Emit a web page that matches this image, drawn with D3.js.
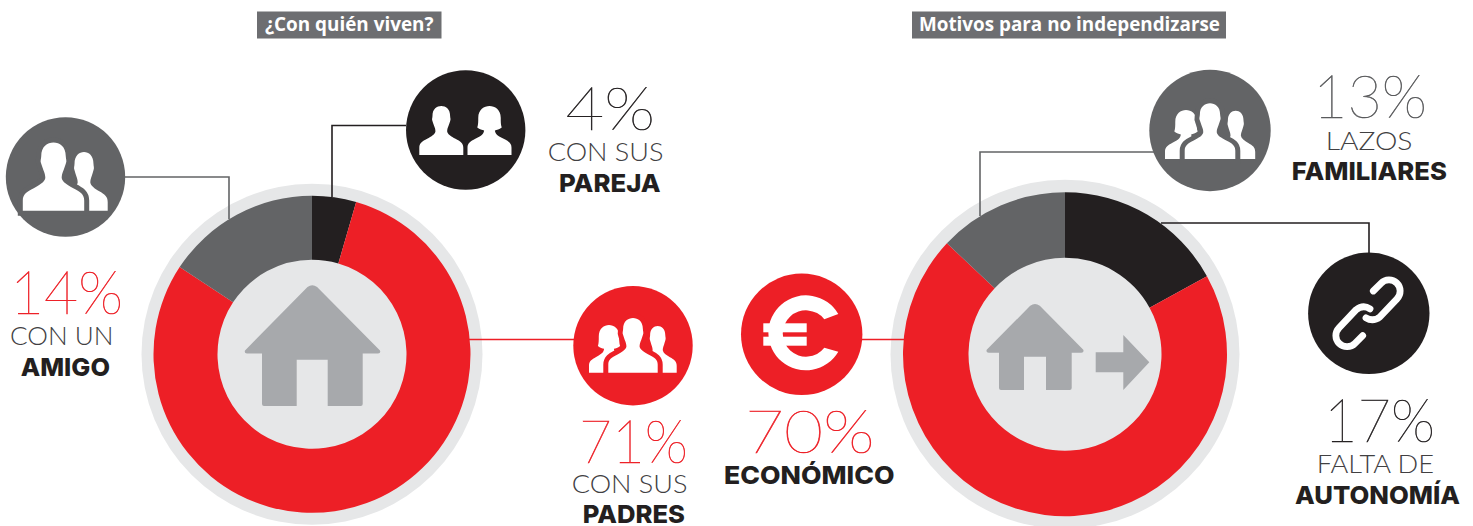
<!DOCTYPE html>
<html lang="es">
<head>
<meta charset="utf-8">
<style>
html,body{margin:0;padding:0;background:#fff;overflow:hidden}
svg{display:block}
.big{font-family:Lato;font-weight:200;stroke-width:.55px;opacity:.99}
.light{font-family:Lato;font-weight:300}
.bold{font-family:Inter,Lato;font-weight:800}
.title{font-family:"Open Sans";font-weight:700;fill:#fff}
</style>
</head>
<body>
<svg id="c" width="1473" height="526"></svg>
<script src="https://cdnjs.cloudflare.com/ajax/libs/d3/7.8.5/d3.min.js"></script>
<script>
// ---- Data ----
const titles = ["¿Con quién viven?", "Motivos para no independizarse"];
const viveCategories = ["Con sus pareja", "Con sus padres", "Con un amigo"];
const viveValues = [4, 71, 14];
const motivoCategories = ["Falta de autonomía", "Económico", "Lazos familiares"];
const motivoValues = [17, 70, 13];
const viveLight = ["CON SUS", "CON SUS", "CON UN"];
const viveBold = ["PAREJA", "PADRES", "AMIGO"];
const motivoLight = ["FALTA DE", "", "LAZOS"];
const motivoBold = ["AUTONOMÍA", "ECONÓMICO", "FAMILIARES"];

// ---- Style / layout (separate from data) ----
const RED = "#ed1f26", DARK = "#231f20", GREY = "#636466", HALO = "#e6e7e8", ICON = "#a7a9ac", TITLE = "#6d6e71";
const sliceColors = [DARK, RED, GREY];
const svg = d3.select("#c");

// Titles
const titleBoxes = [[257, 184.5, 265, 168.5], [912, 314, 919, 301]];
titles.forEach((t, i) => {
  const b = titleBoxes[i];
  svg.append("rect").attr("x", b[0]).attr("y", 11.5).attr("width", b[1]).attr("height", 27).attr("fill", TITLE);
  svg.append("text").attr("class", "title").attr("x", b[2]).attr("y", 31).attr("font-size", 20)
    .attr("textLength", b[3]).attr("lengthAdjust", "spacingAndGlyphs").text(t);
});

const line = d3.line();
const conn = [
  {c: GREY, p: [[125, 177], [229, 177], [229, 219]]},
  {c: DARK, p: [[406, 125.5], [332, 125.5], [332, 197]]},
  {c: RED,  p: [[468, 339.5], [575, 339.5]]},
  {c: RED,  p: [[860, 339.5], [905, 339.5]]},
  {c: GREY, p: [[1155, 152], [980, 152], [980, 216]]},
  {c: DARK, p: [[1161, 223], [1369, 223], [1369, 254]]}
];

// Donuts
const pie = d3.pie().sort(null);
function donut(vals, cx, cy, rHalo, rOut, rIn) {
  const g = svg.append("g").attr("transform", `translate(${cx},${cy})`);
  g.append("circle").attr("r", rHalo).attr("fill", HALO);
  const arc = d3.arc().innerRadius(rIn).outerRadius(rOut);
  g.selectAll("path").data(pie(vals)).join("path").attr("d", arc).attr("fill", (d, i) => sliceColors[i]);
}
donut(viveValues, 312, 354.3, 170.5, 158.5, 94.5);
donut(motivoValues, 1065, 354.2, 174.5, 162, 96.5);

conn.forEach(k => svg.append("path").attr("d", line(k.p)).attr("fill", "none").attr("stroke", k.c).attr("stroke-width", 1.6));

// Houses
function house(a, roofL, roofR, roofB, bodyL, bodyR, bodyB, doorL, doorR, doorT) {
  const p = d3.path();
  const r = 3;
  p.moveTo(a[0] - r * 1.6, a[1] + r * 0.6);
  p.quadraticCurveTo(a[0], a[1] - r * 0.6, a[0] + r * 1.6, a[1] + r * 0.6);
  p.lineTo(roofR, roofB - 3);
  p.quadraticCurveTo(roofR + 1, roofB, roofR - 2, roofB);
  p.lineTo(bodyR, roofB);
  p.lineTo(bodyR, bodyB - 2);
  p.quadraticCurveTo(bodyR, bodyB, bodyR - 2, bodyB);
  p.lineTo(doorR, bodyB); p.lineTo(doorR, doorT); p.lineTo(doorL, doorT); p.lineTo(doorL, bodyB);
  p.lineTo(bodyL + 2, bodyB);
  p.quadraticCurveTo(bodyL, bodyB, bodyL, bodyB - 2);
  p.lineTo(bodyL, roofB);
  p.lineTo(roofL + 2, roofB);
  p.quadraticCurveTo(roofL - 1, roofB, roofL, roofB - 3);
  p.closePath();
  svg.append("path").attr("d", p.toString()).attr("fill", ICON);
}
house([312.3, 285.2], 245, 380, 353.4, 262, 362.7, 406, 296.7, 327.7, 359.7);
house([1035, 304], 986.7, 1083.3, 352.7, 999, 1071.7, 390, 1024, 1046, 356.7);
svg.append("path").attr("fill", ICON)
  .attr("d", d3.line()([[1095.7, 352.3], [1123.3, 352.3], [1123.3, 335], [1149.3, 362.3], [1123.3, 390], [1123.3, 372.3], [1095.7, 372.3]]) + "Z");

// Icon circles
const circles = [
  [65.5, 177, 59.7, GREY], [465.7, 130, 59.7, DARK], [633, 345.7, 59.7, RED],
  [801.7, 334.3, 60.7, RED], [1210, 130.5, 60.7, GREY], [1368.8, 313.3, 60.7, DARK]
];
circles.forEach(c => svg.append("circle").attr("cx", c[0]).attr("cy", c[1]).attr("r", c[2]).attr("fill", c[3]));

// People silhouettes (unit box: x -45..45, y 0..100)
const MAN = "M-18,20C-18,6-9,0 0,0C9,0 18,6 18,20C18,24 20,27 18,31C17,34 16,37 15,40C13,45 12,48 12,52C13,58 20,62 29,67C39,72 45,76 45,85L45,100L-45,100L-45,85C-45,76-39,72-29,67C-20,62-13,58-12,52C-12,48-13,45-15,40C-16,37-17,34-18,31C-20,27-18,24-18,20Z";
const WOMAN = "M-23,24C-23,7-11,0 0,0C11,0 23,7 23,24C23,32 23,38 25,44C20,48 15,49 11,50C12,56 14,60 29,67C39,72 45,76 45,85L45,100L-45,100L-45,85C-45,76-39,72-29,67C-14,60-12,56-11,50C-15,49-20,48-25,44C-23,38-23,32-23,24Z";
function person(cx, top, bottom, half, kind, edge) {
  const sy = (bottom - top) / 100, sx = half / 45;
  const s = svg.append("path").attr("d", kind === "w" ? WOMAN : MAN)
    .attr("transform", `translate(${cx},${top}) scale(${sx},${sy})`).attr("fill", "#fff");
  if (edge) s.attr("stroke", edge).attr("stroke-width", 10 / sx).style("paint-order", "stroke");
}
// friend pair
person(84, 152, 210.7, 23.7, "m");
person(53.5, 142.6, 210.7, 30.7, "m", GREY);
// couple
person(441.3, 106, 155, 22, "m");
person(489.5, 106, 155, 22, "w");
// trio, red
person(609, 325, 372.7, 20, "w");
person(657.7, 326, 372.7, 19, "m");
person(633, 318, 372.7, 24.7, "m", RED);
// trio, grey
person(1186, 110, 159, 21, "w");
person(1235.7, 110.7, 159, 19.5, "m");
person(1210, 103.3, 159, 25.3, "m", GREY);

// Euro glyph
svg.append("rect").attr("x", 763.3).attr("y", 323.3).attr("width", 43.4).attr("height", 9).attr("fill", "#fff");
svg.append("rect").attr("x", 763.3).attr("y", 336.7).attr("width", 43.4).attr("height", 9).attr("fill", "#fff");
svg.append("path").attr("fill", "#fff").attr("transform", "translate(807.5,334.8)")
  .attr("d", "M30.8,-20.8A37.5,37.5 0 1 0 30.8,16.9L16.8,12.9A23.2,23.2 0 1 1 16.8,-15.5Z");

// Chain glyph
const chain = svg.append("g").attr("transform", "translate(1368,313.3)");
const CHAIN = "M5.3,-22.3L13,-30A11,11 0 0 1 29,-14.5L12,3.5Q5,9 -2,4.5";
[0, 180].forEach(a => chain.append("path").attr("d", CHAIN).attr("transform", `rotate(${a})`)
  .attr("fill", "none").attr("stroke", "#fff").attr("stroke-width", 6.8).attr("stroke-linecap", "round"));

// Labels
function label(cls, txt, x0, x1, y, size, col) {
  const t = svg.append("text").attr("class", cls).attr("x", x0).attr("y", y).attr("font-size", size)
    .attr("textLength", x1 - x0).attr("lengthAdjust", "spacingAndGlyphs").attr("fill", col).text(txt);
  if (cls === "big") t.attr("stroke", col);
}
const pct = 60, lt = 26, bd = 25, LBL = "#414042";
// first donut
label("big", viveValues[2] + "%", 10, 123, 313.8, pct, RED);
label("light", viveLight[2], 10, 113.5, 344.6, lt, LBL);
label("bold", viveBold[2], 20.7, 110, 375.8, bd, DARK);
label("big", viveValues[0] + "%", 565.5, 655, 130, pct, DARK);
label("light", viveLight[0], 547.7, 663.5, 161, lt, LBL);
label("bold", viveBold[0], 559, 660.7, 191.5, bd, DARK);
label("big", viveValues[1] + "%", 579, 688, 462.7, pct, RED);
label("light", viveLight[1], 571.7, 687.5, 493.3, lt, LBL);
label("bold", viveBold[1], 582.7, 685, 522.7, bd, DARK);
// second donut
label("big", motivoValues[1] + "%", 745, 874.5, 452.7, pct, RED);
label("bold", motivoBold[1], 724, 894.5, 484, bd, DARK);
label("big", motivoValues[2] + "%", 1313, 1427, 117.7, pct, "#58595b");
label("light", motivoLight[2], 1325.7, 1412.5, 150, lt, LBL);
label("bold", motivoBold[2], 1291.7, 1447, 180, bd, DARK);
label("big", motivoValues[0] + "%", 1324, 1435, 441.7, pct, DARK);
label("light", motivoLight[0], 1316.7, 1434, 473.3, lt, LBL);
label("bold", motivoBold[0], 1295, 1460, 504, bd, DARK);
</script>
</body>
</html>
